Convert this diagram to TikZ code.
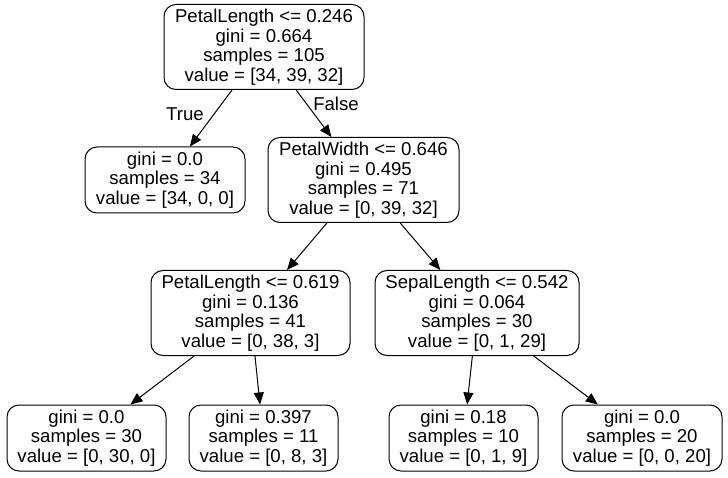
\documentclass[tikz,border=0pt]{standalone}
\usepackage{fontspec}
\setmainfont{Liberation Sans}
\usetikzlibrary{arrows.meta}
\tikzset{
  tnode/.style={draw, line width=1pt, rounded corners=12pt, align=center,
    inner sep=0pt, font=\fontsize{18.6}{19.6}\selectfont},
  inner4/.style={tnode, minimum height=85pt},
  leaf3/.style={tnode, minimum height=66pt},
  conn/.style={line width=1pt, -{Triangle[length=12pt,width=10pt]}},
  elabel/.style={font=\fontsize{18.6}{19.6}\selectfont, inner sep=0pt}
}
\begin{document}
\begin{tikzpicture}[x=1pt,y=1pt]
\useasboundingbox (0,0) rectangle (728,477);
\node[inner4, minimum width=200pt] (root) at (264,430) {PetalLength <= 0.246\\gini = 0.664\\samples = 105\\value = [34, 39, 32]};
\node[leaf3, minimum width=160pt] (l34) at (165,297) {gini = 0.0\\samples = 34\\value = [34, 0, 0]};
\node[inner4, minimum width=191pt] (pw) at (363.5,297) {PetalWidth <= 0.646\\gini = 0.495\\samples = 71\\value = [0, 39, 32]};
\node[inner4, minimum width=199pt] (pl) at (250.5,164) {PetalLength <= 0.619\\gini = 0.136\\samples = 41\\value = [0, 38, 3]};
\node[inner4, minimum width=204pt] (sl) at (477,164) {SepalLength <= 0.542\\gini = 0.064\\samples = 30\\value = [0, 1, 29]};
\node[leaf3, minimum width=159pt] (a) at (86.5,39) {gini = 0.0\\samples = 30\\value = [0, 30, 0]};
\node[leaf3, minimum width=149pt] (b) at (263.5,39) {gini = 0.397\\samples = 11\\value = [0, 8, 3]};
\node[leaf3, minimum width=149pt] (c) at (463.5,39) {gini = 0.18\\samples = 10\\value = [0, 1, 9]};
\node[leaf3, minimum width=160pt] (d) at (642,39) {gini = 0.0\\samples = 20\\value = [0, 0, 20]};
\draw[conn] (root) -- (l34);
\draw[conn] (root) -- (pw);
\draw[conn] (pw) -- (pl);
\draw[conn] (pw) -- (sl);
\draw[conn] (pl) -- (a);
\draw[conn] (pl) -- (b);
\draw[conn] (sl) -- (c);
\draw[conn] (sl) -- (d);
\node[elabel] (tlab) at (185,363) {True};
\node[elabel] (flab) at (336,373) {False};
\end{tikzpicture}
\end{document}
